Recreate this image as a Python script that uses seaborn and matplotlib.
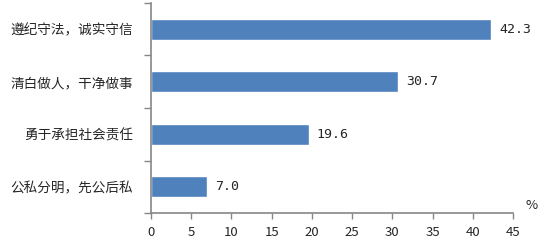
import matplotlib
matplotlib.use("Agg")
import matplotlib.pyplot as plt
import seaborn as sns
import pandas as pd

categories = ["遵纪守法，诚实守信", "清白做人，干净做事", "勇于承担社会责任", "公私分明，先公后私"]
values = [42.3, 30.7, 19.6, 7.0]
xticks = [0, 5, 10, 15, 20, 25, 30, 35, 40, 45]

sns.set_style("white")
plt.rcParams['font.family'] = ['Noto Sans CJK SC', 'DejaVu Sans']

df = pd.DataFrame({"cat": categories, "val": values})

fig = plt.figure(figsize=(5.53, 2.41), dpi=100)
ax = fig.add_axes([0.273, 0.116, 0.655, 0.872])
sns.barplot(data=df, x="val", y="cat", orient="h", color="#4F81BD", width=0.4,
            saturation=1, ax=ax)

ax.set_xlim(0, 45)
ax.set_ylim(3.5, -0.5)
ax.set_xticks(xticks)
ax.set_xticklabels([str(t) for t in xticks], fontsize=9.5)
ax.set_yticks(range(len(categories)))
ax.set_yticklabels(categories, fontsize=9.8)
ax.set_yticks([-0.5, 0.5, 1.5, 2.5, 3.5], minor=True)
ax.tick_params(axis='y', which='major', length=0, pad=13)
ax.tick_params(axis='y', which='minor', length=5, width=1, color='#868686', direction='out', left=True)
ax.tick_params(axis='x', which='major', length=4, width=1, color='#868686', direction='out', bottom=True, pad=5)
ax.set_xlabel("")
ax.set_ylabel("")

for s in ["top", "right"]:
    ax.spines[s].set_visible(False)
for s in ["left", "bottom"]:
    ax.spines[s].set_color('#868686')
    ax.spines[s].set_linewidth(1.2)

for i, v in enumerate(values):
    ax.text(v + 1.0, i, f"{v:.1f}", va='center', ha='left', fontsize=9.5, family='DejaVu Sans Mono')

fig.text(0.962, 0.12, "%", fontsize=9.5, ha='center', va='bottom')

fig.savefig("out.png", dpi=100)
